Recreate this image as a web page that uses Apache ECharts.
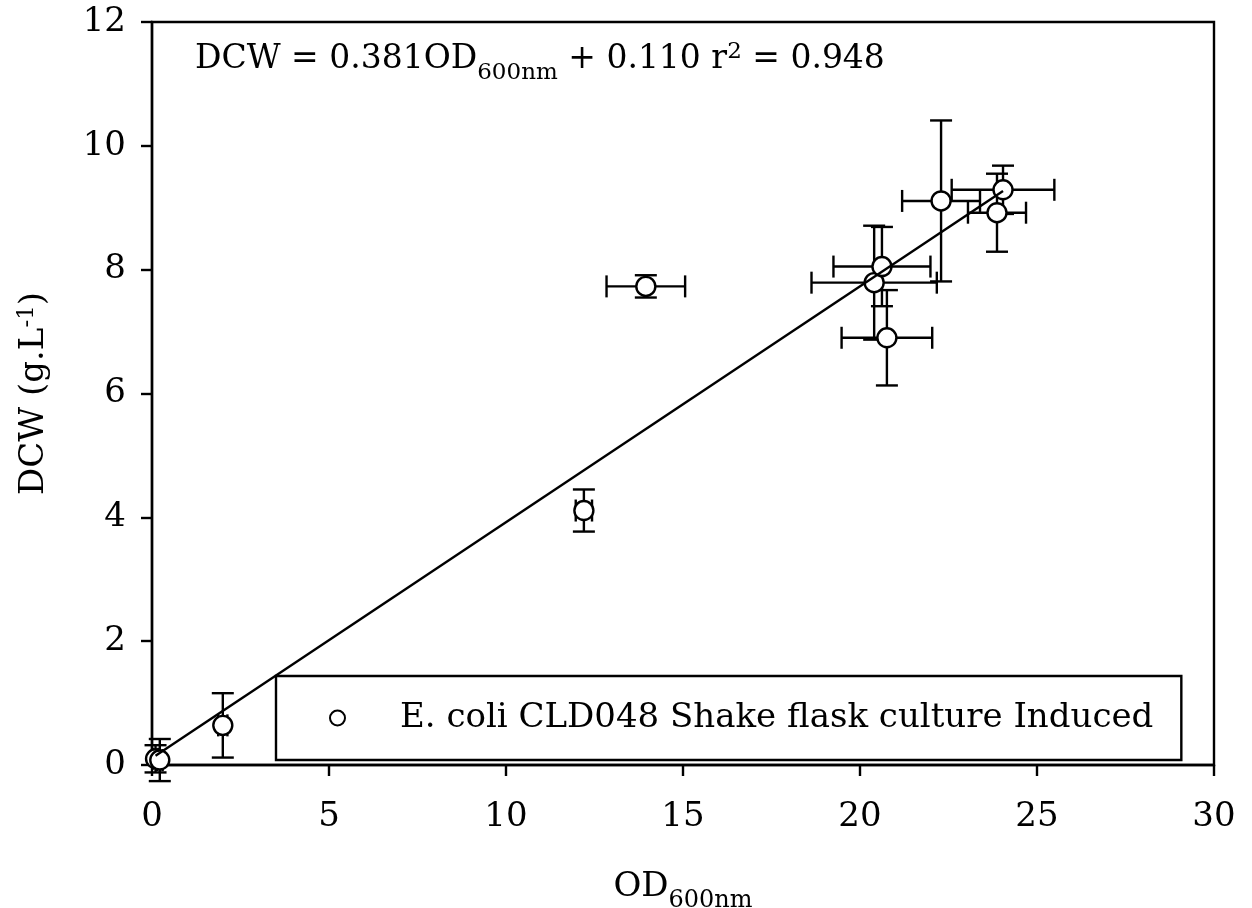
<!DOCTYPE html>
<html>
<head>
<meta charset="utf-8">
<script src="https://cdn.jsdelivr.net/npm/echarts@6/dist/echarts.min.js"></script>
<style>
html,body{margin:0;padding:0;background:#fff;}
#chart{width:1252px;height:908px;}
</style>
</head>
<body>
<div id="chart"></div>
<script>
// Data
const odX    = [0.10, 0.22, 2.00, 12.20, 13.95, 20.40, 20.62, 20.76, 22.29, 23.87, 24.04];
const dcwY   = [0.10, 0.08, 0.64, 4.11, 7.73, 7.79, 8.05, 6.90, 9.11, 8.92, 9.29];
const odErr  = [0.08, 0.08, 0.13, 0.23, 1.11, 1.77, 1.37, 1.28, 1.10, 0.82, 1.45];
const dcwErr = [0.22, 0.34, 0.52, 0.34, 0.18, 0.92, 0.64, 0.77, 1.30, 0.63, 0.39];
// Regression line DCW = 0.381 OD + 0.110 (end points across the data range)
const fitX = [0.10, 24.04];
const fitY = [0.15, 9.27];
const seriesName = 'E. coli CLD048 Shake flask culture Induced';
const xTicks = [0, 5, 10, 15, 20, 25, 30];
const yTicks = [0, 2, 4, 6, 8, 10, 12];

const FONT = 'DejaVu Serif';
const chart = echarts.init(document.getElementById('chart'), null, {renderer: 'canvas'});

const errData = odX.map((x, i) => [x, dcwY[i], odErr[i], dcwErr[i]]);
const ptData = odX.map((x, i) => [x, dcwY[i]]);
const fitData = fitX.map((x, i) => [x, fitY[i]]);

const CAP = 11;
function renderErr(params, api) {
  const x = api.value(0), y = api.value(1), ex = api.value(2), ey = api.value(3);
  const c = api.coord([x, y]);
  const top = api.coord([x, y + ey]);
  const bot = api.coord([x, y - ey]);
  const lft = api.coord([x - ex, y]);
  const rgt = api.coord([x + ex, y]);
  const st = {stroke: '#000', lineWidth: 2.4};
  const ch = [];
  if (ey > 0) {
    ch.push({type: 'line', shape: {x1: c[0], y1: top[1], x2: c[0], y2: bot[1]}, style: st});
    ch.push({type: 'line', shape: {x1: c[0] - CAP, y1: top[1], x2: c[0] + CAP, y2: top[1]}, style: st});
    ch.push({type: 'line', shape: {x1: c[0] - CAP, y1: bot[1], x2: c[0] + CAP, y2: bot[1]}, style: st});
  }
  if (ex > 0) {
    ch.push({type: 'line', shape: {x1: lft[0], y1: c[1], x2: rgt[0], y2: c[1]}, style: st});
    ch.push({type: 'line', shape: {x1: lft[0], y1: c[1] - CAP, x2: lft[0], y2: c[1] + CAP}, style: st});
    ch.push({type: 'line', shape: {x1: rgt[0], y1: c[1] - CAP, x2: rgt[0], y2: c[1] + CAP}, style: st});
  }
  return {type: 'group', children: ch};
}

const option = {
  backgroundColor: '#fff',
  animation: false,
  textStyle: {fontFamily: FONT, color: '#000'},
  grid: {left: 152, right: 38, top: 22, bottom: 143, show: true, borderColor: '#000', borderWidth: 2.4, outerBoundsMode: 'none', containLabel: false},
  xAxis: {
    type: 'value', min: xTicks[0], max: xTicks[xTicks.length - 1], interval: 5,
    axisLine: {show: true, onZero: false, lineStyle: {color: '#000', width: 2.4}},
    axisTick: {show: true, length: 11, lineStyle: {color: '#000', width: 2.4}},
    axisLabel: {show: true, margin: 35, fontFamily: FONT, fontSize: 34, color: '#000'},
    splitLine: {show: false},
    name: '{a|OD}{sub|600nm}', nameLocation: 'middle', nameGap: 96,
    nameTextStyle: {
      fontFamily: FONT, color: '#000',
      rich: {
        a: {fontFamily: FONT, fontSize: 34, lineHeight: 52, color: '#000'},
        sub: {fontFamily: FONT, fontSize: 24, lineHeight: 24, verticalAlign: 'bottom', color: '#000'}
      }
    }
  },
  yAxis: {
    type: 'value', min: yTicks[0], max: yTicks[yTicks.length - 1], interval: 2,
    axisLine: {show: true, onZero: false, lineStyle: {color: '#000', width: 2.4}},
    axisTick: {show: true, length: 11, lineStyle: {color: '#000', width: 2.4}},
    axisLabel: {show: true, margin: 26, fontFamily: FONT, fontSize: 34, color: '#000'},
    splitLine: {show: false},
    name: '{a|DCW (g.L}{sup|-1}{a|)}', nameLocation: 'middle', nameGap: 92, nameRotate: 90,
    nameTextStyle: {
      fontFamily: FONT, color: '#000',
      rich: {
        a: {fontFamily: FONT, fontSize: 34, lineHeight: 52, color: '#000'},
        sup: {fontFamily: FONT, fontSize: 23, lineHeight: 23, verticalAlign: 'top', padding: [8, 0, 0, 0], color: '#000'}
      }
    }
  },
  legend: {
    show: true, left: 276, top: 676,
    data: [seriesName],
    orient: 'horizontal',
    borderColor: '#000', borderWidth: 2.4, borderRadius: 0,
    padding: [22, 28, 22, 53],
    itemWidth: 15, itemHeight: 15,
    textStyle: {fontFamily: FONT, fontSize: 34, color: '#000', lineHeight: 40, padding: [0, 0, 0, 50]}
  },
  graphic: [{
    type: 'text', left: 195, top: 33, z: 100,
    style: {
      text: '{a|DCW = 0.381OD}{sub|600nm}{a| + 0.110 r}{sup|2}{a| = 0.948}',
      fill: '#000',
      rich: {
        a: {fontFamily: FONT, fontSize: 33, lineHeight: 52, fill: '#000'},
        sub: {fontFamily: FONT, fontSize: 23, lineHeight: 23, verticalAlign: 'bottom', fill: '#000'},
        sup: {fontFamily: FONT, fontSize: 23, lineHeight: 23, verticalAlign: 'top', padding: [8, 0, 0, 0], fill: '#000'}
      }
    }
  }],
  series: [
    {
      type: 'custom', name: 'err', renderItem: renderErr, data: errData, z: 1,
      encode: {x: 0, y: 1}, silent: true
    },
    {
      type: 'scatter', name: seriesName, data: ptData, z: 2,
      symbol: 'circle', symbolSize: 19,
      itemStyle: {color: '#fff', borderColor: '#000', borderWidth: 2.4, opacity: 1}
    },
    {
      type: 'line', name: 'fit', data: fitData, z: 3, symbol: 'none',
      lineStyle: {color: '#000', width: 2.4}, silent: true
    }
  ]
};
chart.setOption(option);
</script>
</body>
</html>
